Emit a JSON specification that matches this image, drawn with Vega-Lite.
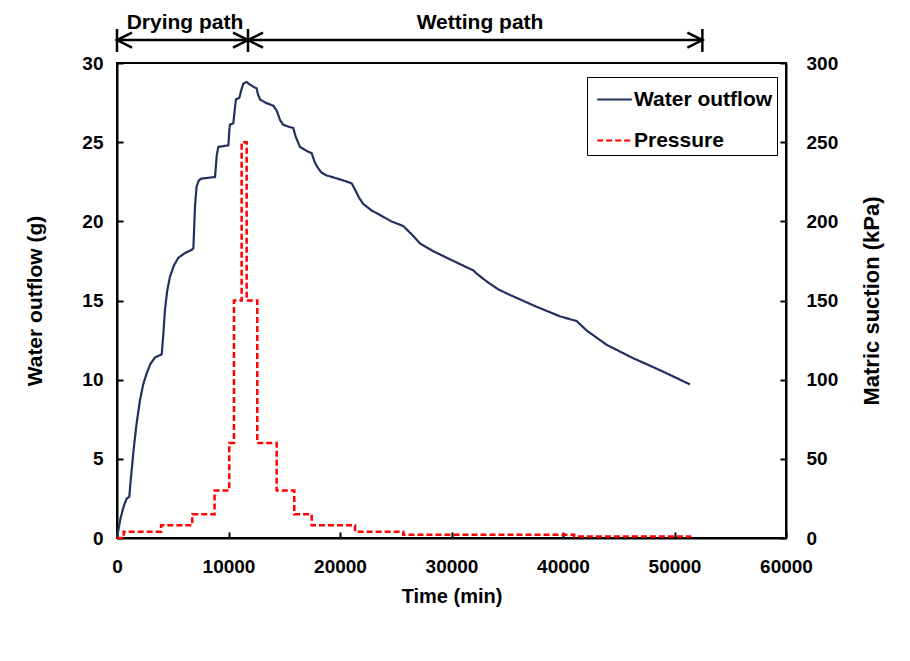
{
  "$schema": "https://vega.github.io/schema/vega-lite/v6.json",
  "width": 669,
  "height": 475,
  "autosize": {"type": "none"},
  "padding": {"left": 117, "top": 63, "right": 124, "bottom": 123},
  "background": "white",
  "config": {
    "font": "Liberation Sans",
    "view": {"stroke": "black", "strokeWidth": 2},
    "axis": {
      "grid": false,
      "domainColor": "black",
      "domainWidth": 2,
      "tickColor": "black",
      "tickWidth": 2,
      "tickSize": -6,
      "labelFlush": false,
      "labelFont": "Liberation Sans",
      "labelFontSize": 19,
      "labelFontWeight": "bold",
      "labelColor": "black",
      "titleFont": "Liberation Sans",
      "titleFontSize": 21,
      "titleFontWeight": "bold",
      "titleColor": "black"
    },
    "legend": {
      "labelFont": "Liberation Sans",
      "labelFontSize": 21,
      "labelFontWeight": "bold",
      "labelColor": "black"
    }
  },
  "datasets": {
    "outflow": [
      {"t": 0, "w": 0}, {"t": 300, "w": 1.2}, {"t": 600, "w": 2.0}, {"t": 870, "w": 2.5}, {"t": 1100, "w": 2.6},
      {"t": 1250, "w": 3.8}, {"t": 1480, "w": 5.5}, {"t": 1750, "w": 7.2}, {"t": 2060, "w": 8.7}, {"t": 2350, "w": 9.7},
      {"t": 2660, "w": 10.4}, {"t": 3000, "w": 11.0}, {"t": 3410, "w": 11.4}, {"t": 4010, "w": 11.6}, {"t": 4150, "w": 12.8},
      {"t": 4300, "w": 14.4}, {"t": 4500, "w": 15.6}, {"t": 4750, "w": 16.5}, {"t": 5100, "w": 17.2}, {"t": 5500, "w": 17.7},
      {"t": 6100, "w": 18.0}, {"t": 6700, "w": 18.2}, {"t": 6850, "w": 18.3}, {"t": 7000, "w": 21.0}, {"t": 7140, "w": 22.2},
      {"t": 7350, "w": 22.6}, {"t": 7590, "w": 22.7}, {"t": 8790, "w": 22.8}, {"t": 8950, "w": 24.2}, {"t": 9090, "w": 24.7},
      {"t": 9990, "w": 24.8}, {"t": 10080, "w": 25.8}, {"t": 10130, "w": 26.1}, {"t": 10430, "w": 26.2}, {"t": 10600, "w": 27.3},
      {"t": 10670, "w": 27.7}, {"t": 10970, "w": 27.8}, {"t": 11150, "w": 28.3}, {"t": 11330, "w": 28.7}, {"t": 11630, "w": 28.8},
      {"t": 11800, "w": 28.7}, {"t": 12230, "w": 28.5}, {"t": 12520, "w": 28.4}, {"t": 12650, "w": 28.0}, {"t": 12830, "w": 27.7},
      {"t": 13300, "w": 27.5}, {"t": 14020, "w": 27.3}, {"t": 14320, "w": 27.0}, {"t": 14620, "w": 26.4}, {"t": 14900, "w": 26.1},
      {"t": 15500, "w": 25.95}, {"t": 15810, "w": 25.9}, {"t": 16000, "w": 25.4}, {"t": 16410, "w": 24.7}, {"t": 17000, "w": 24.45},
      {"t": 17460, "w": 24.3}, {"t": 17700, "w": 23.8}, {"t": 17910, "w": 23.5}, {"t": 18300, "w": 23.1}, {"t": 18800, "w": 22.9},
      {"t": 20000, "w": 22.65}, {"t": 21050, "w": 22.4}, {"t": 21350, "w": 22.0}, {"t": 21700, "w": 21.5}, {"t": 22090, "w": 21.1},
      {"t": 22800, "w": 20.7}, {"t": 23590, "w": 20.4}, {"t": 24600, "w": 20.0}, {"t": 25680, "w": 19.7}, {"t": 26400, "w": 19.2},
      {"t": 27180, "w": 18.6}, {"t": 28400, "w": 18.1}, {"t": 29570, "w": 17.7}, {"t": 30760, "w": 17.3}, {"t": 31960, "w": 16.9},
      {"t": 32260, "w": 16.7}, {"t": 33160, "w": 16.2}, {"t": 34200, "w": 15.7}, {"t": 35250, "w": 15.35}, {"t": 37640, "w": 14.6},
      {"t": 39730, "w": 14.0}, {"t": 41230, "w": 13.7}, {"t": 42130, "w": 13.1}, {"t": 43920, "w": 12.2}, {"t": 46310, "w": 11.35},
      {"t": 48700, "w": 10.6}, {"t": 51390, "w": 9.7}
    ],
    "pressure": [
      {"t": 0, "p": 0}, {"t": 600, "p": 4}, {"t": 3950, "p": 8}, {"t": 6750, "p": 15}, {"t": 8750, "p": 30},
      {"t": 10070, "p": 60}, {"t": 10490, "p": 150}, {"t": 11180, "p": 250}, {"t": 11630, "p": 150}, {"t": 12580, "p": 60},
      {"t": 14320, "p": 30}, {"t": 15900, "p": 15}, {"t": 17460, "p": 8}, {"t": 21350, "p": 4}, {"t": 25680, "p": 2},
      {"t": 41000, "p": 1}, {"t": 51500, "p": 1}
    ],
    "spans": [
      {"start": 0, "end": 52500}
    ],
    "ends": [
      {"t": 0}, {"t": 11750}, {"t": 52500}
    ],
    "heads": [
      {"t": 0, "dir": "left"}, {"t": 11750, "dir": "right"}, {"t": 11750, "dir": "left"}, {"t": 52500, "dir": "right"}
    ],
    "labels": [
      {"t": 6100, "label": "Drying path"}, {"t": 32560, "label": "Wetting path"}
    ]
  },
  "layer": [
    {
      "layer": [
        {
          "data": {"name": "outflow"},
          "mark": {"type": "line", "strokeWidth": 2.2},
          "encoding": {
            "x": {"field": "t", "type": "quantitative", "scale": {"domain": [0, 60000], "nice": false},
                  "axis": {"title": "Time (min)", "values": [0, 10000, 20000, 30000, 40000, 50000, 60000], "labelPadding": 25, "titlePadding": 10, "format": "d", "titleFontSize": 20}},
            "y": {"field": "w", "type": "quantitative", "scale": {"domain": [0, 30], "nice": false},
                  "axis": {"title": "Water outflow (g)", "values": [0, 5, 10, 15, 20, 25, 30], "labelPadding": 20, "titlePadding": 36}},
            "color": {"datum": "Water outflow", "type": "nominal",
                      "scale": {"domain": ["Water outflow", "Pressure"], "range": ["#22305f", "#ff0000"]},
                      "legend": {"title": null, "orient": "none", "legendX": 470, "legendY": 14, "direction": "vertical",
                                 "strokeColor": "black", "padding": 4, "rowPadding": 12, "symbolType": "stroke",
                                 "symbolSize": 1200, "symbolStrokeWidth": 2, "symbolOffset": 5, "labelOffset": 1, "fillColor": "white"}},
            "strokeDash": {"datum": "Water outflow", "type": "nominal",
                           "scale": {"domain": ["Water outflow", "Pressure"], "range": [[1, 0], [6, 3]]},
                           "legend": {"title": null}}
          }
        },
        {
          "data": {"name": "spans"},
          "mark": {"type": "rule", "color": "black", "strokeWidth": 2.5, "clip": false},
          "encoding": {
            "x": {"field": "start", "type": "quantitative"},
            "x2": {"field": "end"},
            "y": {"datum": 31.45, "type": "quantitative", "scale": {"domain": [0, 30], "nice": false}}
          }
        },
        {
          "data": {"name": "ends"},
          "mark": {"type": "rule", "color": "black", "strokeWidth": 2.5, "clip": false},
          "encoding": {
            "x": {"field": "t", "type": "quantitative"},
            "y": {"datum": 30.7, "type": "quantitative", "scale": {"domain": [0, 30], "nice": false}},
            "y2": {"datum": 32.15}
          }
        },
        {
          "data": {"name": "heads"},
          "mark": {"type": "point", "filled": false, "stroke": "black", "strokeWidth": 2.5, "size": 100, "clip": false, "opacity": 1},
          "encoding": {
            "x": {"field": "t", "type": "quantitative"},
            "y": {"datum": 31.45, "type": "quantitative", "scale": {"domain": [0, 30], "nice": false}},
            "shape": {"field": "dir", "type": "nominal",
                      "scale": {"domain": ["left", "right"], "range": ["M3,-1.5L0,0L3,1.5", "M-3,-1.5L0,0L-3,1.5"]},
                      "legend": null}
          }
        },
        {
          "data": {"name": "labels"},
          "mark": {"type": "text", "font": "Liberation Sans", "fontSize": 21, "fontWeight": "bold", "color": "black", "clip": false, "baseline": "middle"},
          "encoding": {
            "x": {"field": "t", "type": "quantitative"},
            "y": {"datum": 32.5, "type": "quantitative", "scale": {"domain": [0, 30], "nice": false}},
            "text": {"field": "label"}
          }
        }
      ]
    },
    {
      "data": {"name": "pressure"},
      "mark": {"type": "line", "strokeWidth": 2.5, "interpolate": "step-after"},
      "encoding": {
        "x": {"field": "t", "type": "quantitative"},
        "y": {"field": "p", "type": "quantitative", "scale": {"domain": [0, 300], "nice": false},
              "axis": {"orient": "right", "title": "Matric suction (kPa)", "values": [0, 50, 100, 150, 200, 250, 300], "labelPadding": 26, "titlePadding": 46, "titleAngle": 270, "titleFontSize": 22}},
        "color": {"datum": "Pressure", "type": "nominal"},
        "strokeDash": {"datum": "Pressure", "type": "nominal"}
      }
    }
  ],
  "resolve": {"scale": {"y": "independent"}}
}
